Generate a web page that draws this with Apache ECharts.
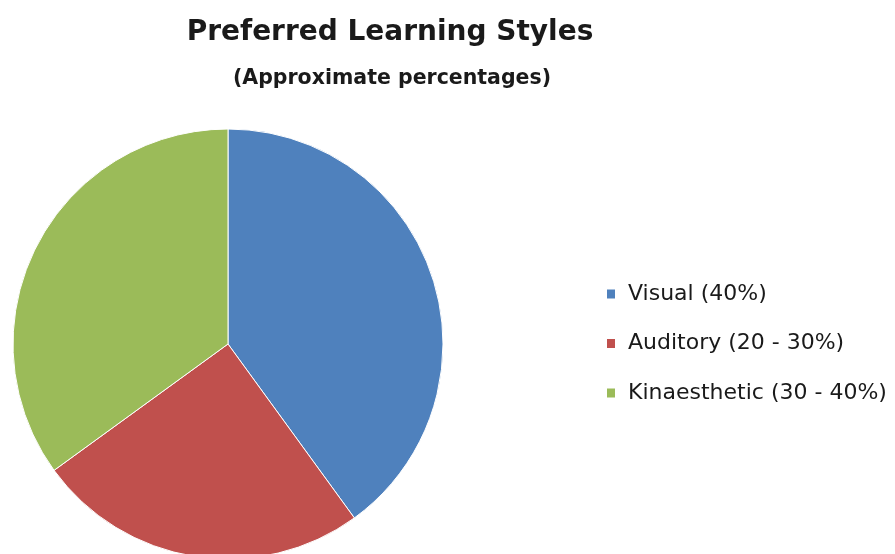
<!DOCTYPE html>
<html>
<head>
<meta charset="utf-8">
<script src="https://cdn.jsdelivr.net/npm/echarts@6/dist/echarts.min.js"></script>
<style>html,body{margin:0;padding:0;background:#fff;}#c{width:895px;height:554px;}</style>
</head>
<body>
<div id="c"></div>
<script>
const categories = ['Visual (40%)', 'Auditory (20 - 30%)', 'Kinaesthetic (30 - 40%)'];
const values = [40, 25, 35];
const colors = ['#4F81BD', '#C0504D', '#9BBB59'];
const titleText = 'Preferred Learning Styles';
const subtitleText = '(Approximate percentages)';

const chart = echarts.init(document.getElementById('c'));
const font = '"DejaVu Sans", sans-serif';
chart.setOption({
  backgroundColor: '#ffffff',
  animation: false,
  title: [{
    text: titleText,
    left: 390,
    textAlign: 'center',
    top: 19,
    padding: 0,
    textStyle: { fontFamily: font, fontWeight: 'bold', fontSize: 28, color: '#1a1a1a' }
  }, {
    text: subtitleText,
    left: 392,
    textAlign: 'center',
    top: 68,
    padding: 0,
    textStyle: { fontFamily: font, fontWeight: 'bold', fontSize: 20.5, color: '#1a1a1a' }
  }],
  legend: {
    orient: 'vertical',
    left: 600,
    top: 278,
    icon: 'rect',
    itemWidth: 10,
    itemHeight: 11,
    itemGap: 27.5,
    textStyle: { fontFamily: font, fontSize: 22, color: '#1a1a1a', padding: [0, 0, 0, 7] },
    data: categories
  },
  series: [{
    type: 'pie',
    center: [228, 344],
    radius: 215,
    startAngle: 90,
    clockwise: true,
    label: { show: false },
    labelLine: { show: false },
    emphasis: { disabled: true },
    itemStyle: { borderColor: '#ffffff', borderWidth: 1 },
    data: categories.map((name, i) => ({ name, value: values[i], itemStyle: { color: colors[i] } }))
  }]
});
</script>
</body>
</html>
